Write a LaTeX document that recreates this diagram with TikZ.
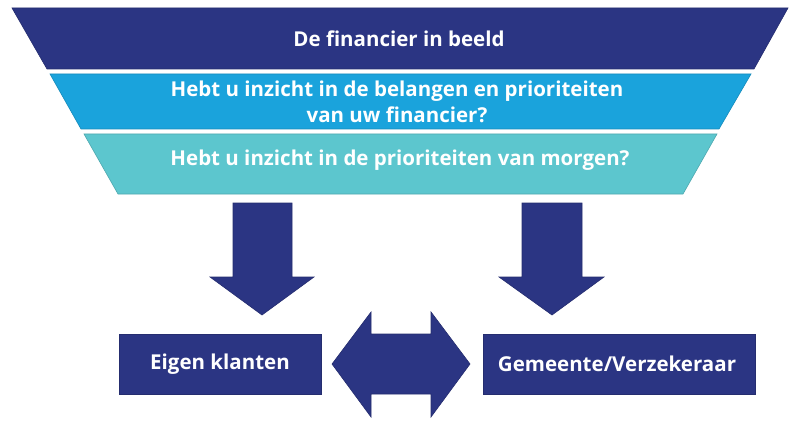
\documentclass[tikz,border=0pt]{standalone}
\usepackage{fontspec}
\setmainfont{Open Sans}[BoldFont={Open Sans Bold}]
\definecolor{navy}{HTML}{2B3583}
\definecolor{midblue}{HTML}{1AA3DC}
\definecolor{teal}{HTML}{5CC6CE}
\begin{document}
\begin{tikzpicture}[x=1pt,y=-1pt,
  shapefill/.style={fill=#1,draw=#1!85!black,line width=0.6pt,line join=miter},
  lbl/.style={text=white,font=\bfseries\fontsize{20.5}{25.5}\selectfont,align=center,inner sep=0pt}]
\useasboundingbox (0,0) rectangle (800,425);
% funnel bands
\draw[shapefill=navy] (12,8) -- (788,8) -- (754,69) -- (47,69) -- cycle;
\draw[shapefill=midblue] (50,74) -- (751,74) -- (719,129) -- (81,129) -- cycle;
\draw[shapefill=teal] (84,134) -- (717,134) -- (683,194) -- (118,194) -- cycle;
\node[lbl] (t1) at (399,39) {De financier in beeld};
\node[lbl] (t2) at (397,102) {Hebt u inzicht in de belangen en prioriteiten\\van uw financier?};
\node[lbl] (t3) at (400,160) {Hebt u inzicht in de prioriteiten van morgen?};
% down arrows
\draw[shapefill=navy] (233,203) -- (292,203) -- (292,277) -- (314,277) -- (262,315) -- (210,277) -- (233,277) -- cycle;
\draw[shapefill=navy] (522,203) -- (582,203) -- (582,277) -- (604,277) -- (552,315) -- (499,277) -- (522,277) -- cycle;
% boxes
\draw[shapefill=navy] (119,334) rectangle (321,394);
\node[lbl] (b1) at (220,364) {Eigen klanten};
\draw[shapefill=navy] (483,334) rectangle (755,394);
\node[lbl] (b2) at (617,364) {Gemeente/Verzekeraar};
% double arrow
\draw[shapefill=navy] (332,364) -- (371,312) -- (371,334) -- (431,334) -- (431,312) -- (470,364) -- (431,417) -- (431,394) -- (371,394) -- (371,417) -- cycle;
\end{tikzpicture}
\end{document}
